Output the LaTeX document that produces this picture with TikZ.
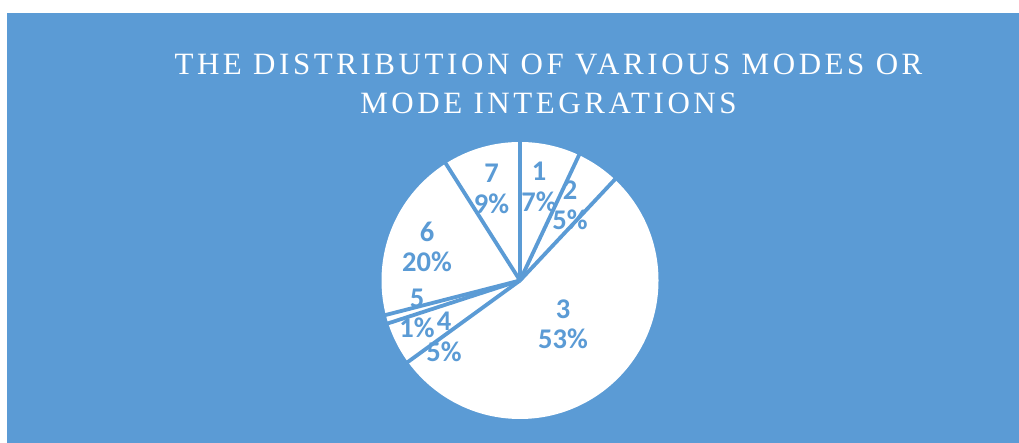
\documentclass[tikz,border=0pt]{standalone}
\usepackage{fontspec}
\usetikzlibrary{calc}
\newfontfamily\titlefont[LetterSpace=11.5]{Liberation Serif}
\newfontfamily\labfont{Carlito}
\definecolor{bgblue}{HTML}{5B9BD5}
\begin{document}
\begin{tikzpicture}[x=1pt,y=1pt,
  titletext/.style={text=white,font=\titlefont\fontsize{31}{39}\selectfont,anchor=base,inner sep=0pt},
  lab/.style={text=bgblue,font=\labfont\bfseries\fontsize{28.5}{30.5}\selectfont,align=center,inner sep=0pt},
  sep/.style={draw=bgblue,line width=3.8pt}]
\useasboundingbox (0,0) rectangle (1019,443);
\fill[white] (0,0) rectangle (1019,443);
\fill[bgblue] (7,0) rectangle (1019,430);
\node[titletext] (title1) at (548.5,368) {THE DISTRIBUTION OF VARIOUS MODES OR};
\node[titletext] (title2) at (548.5,329) {MODE INTEGRATIONS};
\coordinate (c) at (520,162.5);
\fill[white] (c) circle[radius=138.5];
\foreach \a [count=\i] in {90,64.8,46.8,-144,-162,-165.6,122.4}{
  \coordinate (b\i) at ($(c)+(\a:140)$);
  \draw[sep] (c) -- (b\i);
}
\node[lab] (l1) at (539,256) {1\\7\%};
\node[lab] (l2) at (570,237.5) {2\\5\%};
\node[lab] (l3) at (563,118.5) {3\\53\%};
\node[lab] (l4) at (444,106) {4\\5\%};
\node[lab] (l5) at (417,129.5) {5\\1\%};
\node[lab] (l6) at (427,196) {6\\20\%};
\node[lab] (l7) at (491.5,254) {7\\9\%};
\end{tikzpicture}
\end{document}
